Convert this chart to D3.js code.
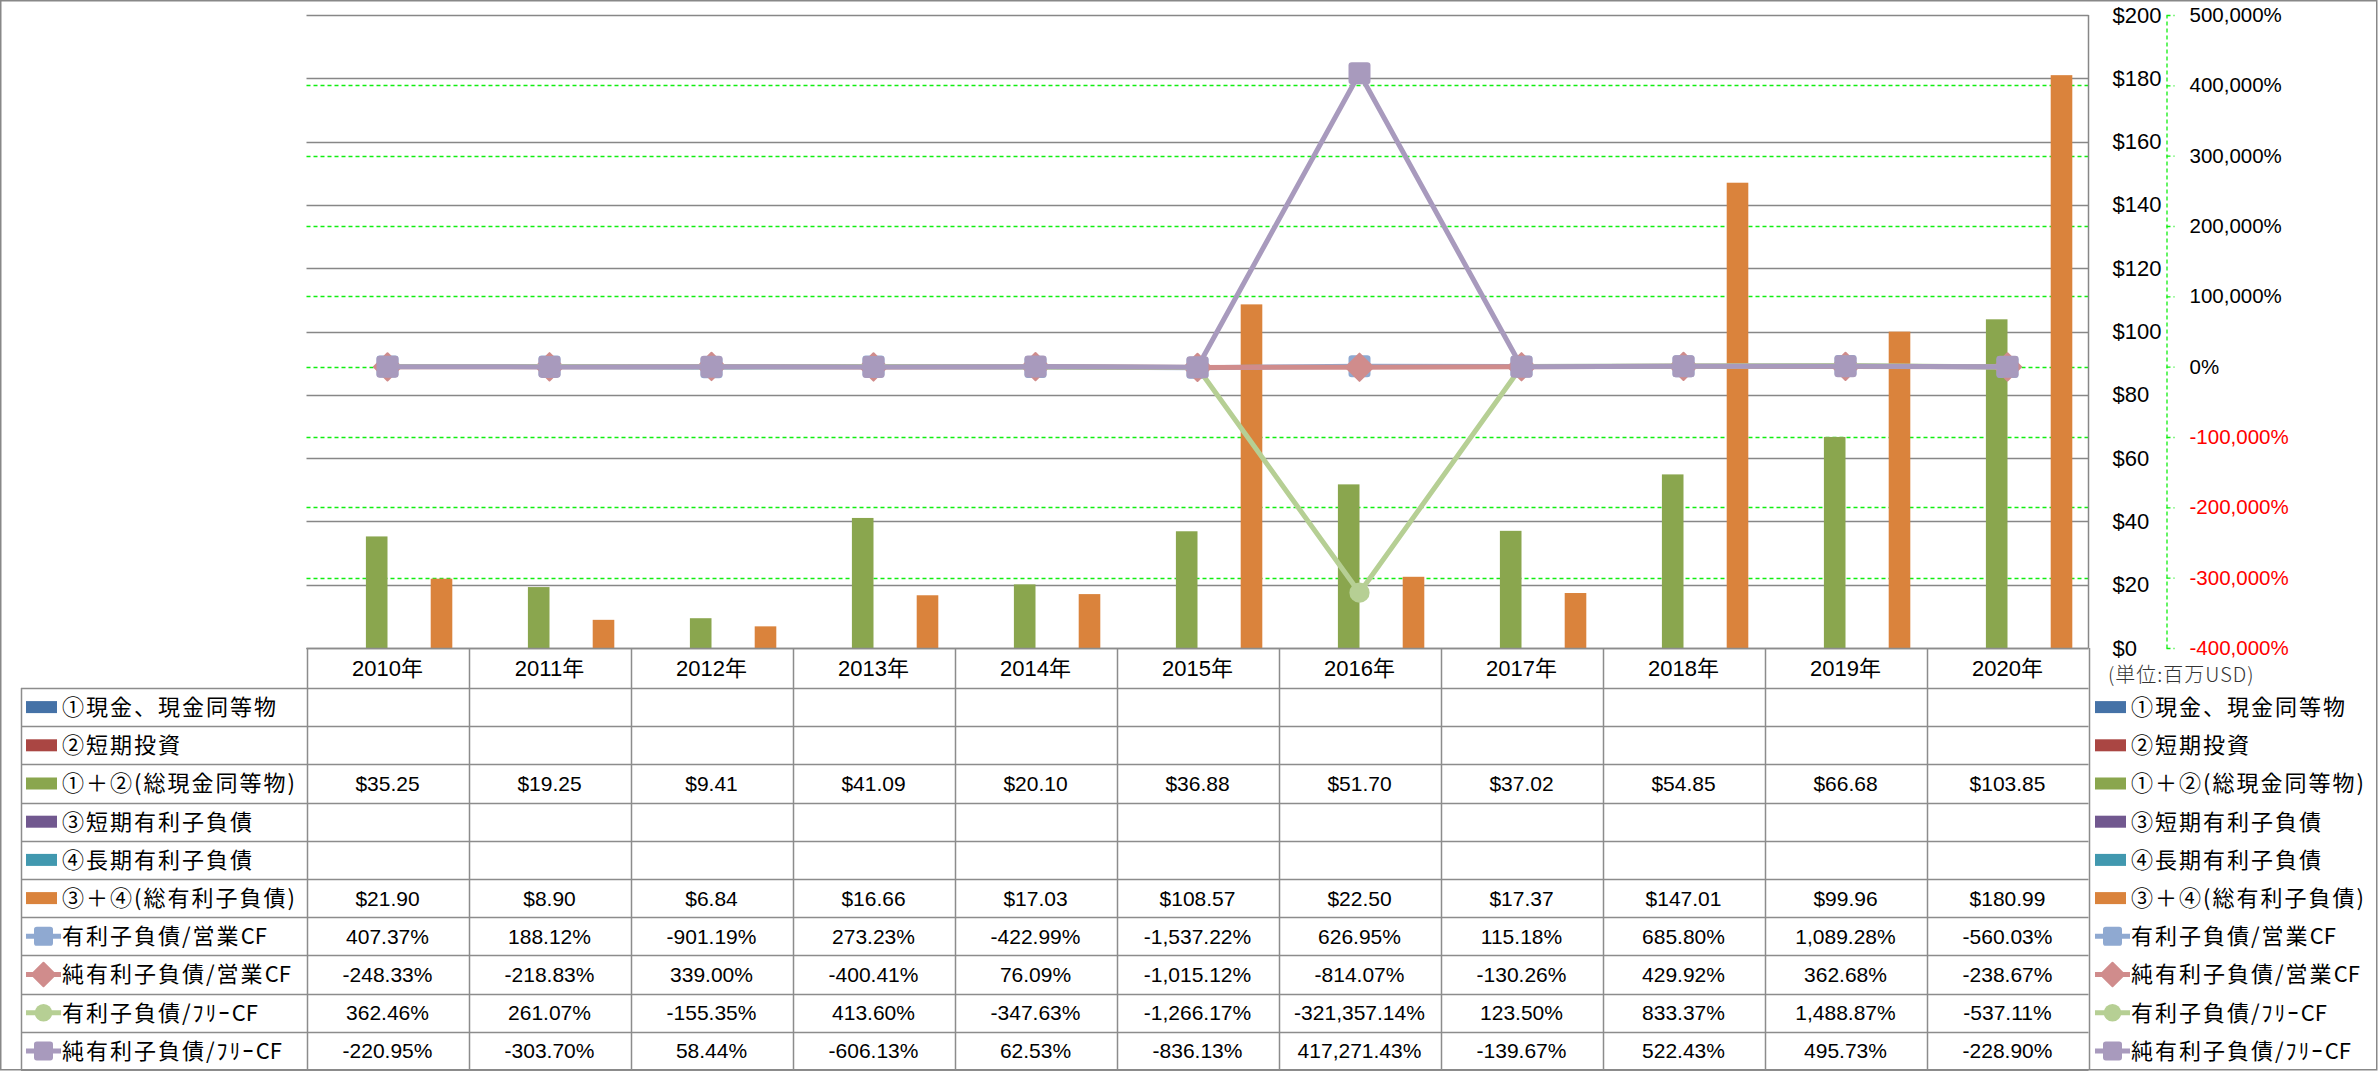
<!DOCTYPE html>
<html><head><meta charset="utf-8">
<script src="https://cdn.jsdelivr.net/npm/d3@7"></script>
<style>
html,body{margin:0;padding:0;background:#fff;}
svg{display:block;}
text{font-family:"Liberation Sans","Noto Sans CJK JP",sans-serif;}
.jp{font-family:"Noto Sans CJK JP","Liberation Sans",sans-serif;}
</style></head>
<body>
<script>
// ---------- data ----------
const years = ["2010年","2011年","2012年","2013年","2014年","2015年","2016年","2017年","2018年","2019年","2020年"];
const barNames = ["①現金、現金同等物","②短期投資","①＋②(総現金同等物)","③短期有利子負債","④長期有利子負債","③＋④(総有利子負債)"];
const barColors = ["#4572A7","#AA4643","#8AA64E","#71588F","#4198AF","#DA833C"];
const cashEq = [null,null,null,null,null,null,null,null,null,null,null];
const shortInv = [null,null,null,null,null,null,null,null,null,null,null];
const totalCash = [35.25,19.25,9.41,41.09,20.10,36.88,51.70,37.02,54.85,66.68,103.85];
const shortDebt = [null,null,null,null,null,null,null,null,null,null,null];
const longDebt = [null,null,null,null,null,null,null,null,null,null,null];
const totalDebt = [21.90,8.90,6.84,16.66,17.03,108.57,22.50,17.37,147.01,99.96,180.99];

const lineNames = ["有利子負債/営業CF","純有利子負債/営業CF","有利子負債/ﾌﾘｰCF","純有利子負債/ﾌﾘｰCF"];
const lineColors = ["#8FA9D1","#D08C8C","#B6CF94","#A89ABD"];
const lineMarkers = ["square","diamond","circle","square"];
const debtOpCF = [407.37,188.12,-901.19,273.23,-422.99,-1537.22,626.95,115.18,685.80,1089.28,-560.03];
const netDebtOpCF = [-248.33,-218.83,339.00,-400.41,76.09,-1015.12,-814.07,-130.26,429.92,362.68,-238.67];
const debtFCF = [362.46,261.07,-155.35,413.60,-347.63,-1266.17,-321357.14,123.50,833.37,1488.87,-537.11];
const netDebtFCF = [-220.95,-303.70,58.44,-606.13,62.53,-836.13,417271.43,-139.67,522.43,495.73,-228.90];

const leftTicks = [0,20,40,60,80,100,120,140,160,180,200];
const rightTicks = [-400000,-300000,-200000,-100000,0,100000,200000,300000,400000,500000];
const unitLabel = "(単位:百万USD)";

const barData = [cashEq, shortInv, totalCash, shortDebt, longDebt, totalDebt];
const lineData = [debtOpCF, netDebtOpCF, debtFCF, netDebtFCF];

// ---------- layout ----------
const W = 2378, H = 1071;
const plotL = 306.5, plotR = 2088.5, plotT = 15, plotB = 648;
const headerB = 688, rowH = 38.2;
const labelL = 21;

const loc = d3.formatLocale({decimal:".", thousands:",", grouping:[3], currency:["$",""], minus:"-"});
const fmtComma = loc.format(",");
const fmt2 = loc.format(",.2f");

const svg = d3.select("body").append("svg").attr("width", W).attr("height", H);
svg.append("rect").attr("x",0.75).attr("y",0.75).attr("width",W-2).attr("height",H-2)
  .attr("fill","#fff").attr("stroke","#888").attr("stroke-width",1.5);

const x0 = d3.scaleBand().domain(years).range([plotL, plotR]).paddingInner(0).paddingOuter(0);
const x1 = d3.scaleBand().domain(d3.range(barNames.length)).range([0, x0.bandwidth()]).paddingInner(0).paddingOuter(0.75);
const yL = d3.scaleLinear().domain([0,200]).range([plotB, plotT]);
const yR = d3.scaleLinear().domain([-400000,500000]).range([plotB, plotT]);

const grid = svg.append("g");
grid.selectAll("line.g").data(leftTicks).join("line")
  .attr("x1", plotL).attr("x2", plotR)
  .attr("y1", d => Math.round(yL(d))+0.5).attr("y2", d => Math.round(yL(d))+0.5)
  .attr("stroke","#878787").attr("stroke-width",1.5);
grid.selectAll("line.r").data(rightTicks.filter(d => d > -400000 && d < 500000)).join("line")
  .attr("x1", plotL).attr("x2", plotR)
  .attr("y1", d => Math.round(yR(d))+0.5).attr("y2", d => Math.round(yR(d))+0.5)
  .attr("stroke","#11ee11").attr("stroke-width",1.3).attr("stroke-dasharray","4,3");
grid.append("line").attr("x1",plotR).attr("x2",plotR).attr("y1",plotT).attr("y2",plotB)
  .attr("stroke","#878787").attr("stroke-width",1.5);

// bars
const barG = svg.append("g");
barData.forEach((series, si) => {
  barG.selectAll(null).data(series.map((v,i)=>({v, year: years[i]})).filter(d => d.v != null)).join("rect")
    .attr("x", d => x0(d.year) + x1(si))
    .attr("width", x1.bandwidth())
    .attr("y", d => yL(d.v))
    .attr("height", d => yL(0) - yL(d.v))
    .attr("fill", barColors[si]);
});

function drawMarker(g, type, cx, cy, color, s) {
  if (type === "square") {
    g.append("rect").attr("x", cx - s/2).attr("y", cy - s/2).attr("width", s).attr("height", s)
      .attr("rx", s*0.15).attr("fill", color);
  } else if (type === "diamond") {
    const r = s*0.62;
    g.append("path").attr("d", `M${cx},${cy-r}L${cx+r},${cy}L${cx},${cy+r}L${cx-r},${cy}Z`)
      .attr("fill", color).attr("stroke", color).attr("stroke-width", 2).attr("stroke-linejoin","round");
  } else {
    g.append("circle").attr("cx", cx).attr("cy", cy).attr("r", s*0.46).attr("fill", color);
  }
}

// lines
const lineG = svg.append("g");
const lineGen = d3.line().x((d,i) => x0(years[i]) + x0.bandwidth()/2).y(d => yR(d));
lineData.forEach((series, si) => {
  const g = lineG.append("g");
  g.append("path").attr("d", lineGen(series)).attr("fill","none")
    .attr("stroke", lineColors[si]).attr("stroke-width", 5).attr("stroke-linejoin","round").attr("stroke-linecap","round");
  series.forEach((v,i) => drawMarker(g, lineMarkers[si], x0(years[i]) + x0.bandwidth()/2, yR(v), lineColors[si], 22));
});

// $ axis (drawn at right of plot)
const axL = svg.append("g").attr("transform", `translate(${plotR},0)`)
  .call(d3.axisRight(yL).tickValues(leftTicks).tickSize(0).tickPadding(24).tickFormat(d => "$" + d));
axL.select(".domain").remove();
axL.selectAll("text").attr("font-size", 22).attr("fill","#000").attr("font-family", "Liberation Sans, sans-serif");

// % axis
const axisX = 2166.5;
const axR = svg.append("g").attr("transform", `translate(${axisX},0)`)
  .call(d3.axisRight(yR).tickValues(rightTicks).tickSize(8).tickSizeOuter(0).tickPadding(15)
    .tickFormat(d => fmtComma(d) + "%"));
axR.select(".domain").attr("stroke","#11ee11").attr("stroke-width",1.3).attr("stroke-dasharray","4,3");
axR.selectAll(".tick line").attr("stroke","#11ee11").attr("stroke-width",1.3).attr("stroke-dasharray","4,3");
axR.selectAll("text").attr("font-size", 20.5).attr("font-family", "Liberation Sans, sans-serif")
  .attr("fill", d => d < 0 ? "#ff0000" : "#000");

svg.append("text").attr("class","jp").attr("x", 2108).attr("y", 675).attr("dy","0.35em")
  .attr("font-size", 20).attr("letter-spacing", 1).attr("fill","#333").attr("font-weight",300).text(unitLabel);

// ---------- data table ----------
const tbl = svg.append("g");
const gridColor = "#8c8c8c";
const nRows = barNames.length + lineNames.length;
const rowY = i => headerB + i*rowH;
tbl.append("line").attr("x1", plotL).attr("x2", plotR).attr("y1", plotB+0.5).attr("y2", plotB+0.5)
  .attr("stroke", gridColor).attr("stroke-width",1.5);
d3.range(nRows+1).forEach(i => {
  const y = Math.round(rowY(i)) + 0.5;
  tbl.append("line").attr("x1", labelL).attr("x2", plotR).attr("y1", y).attr("y2", y)
    .attr("stroke", gridColor).attr("stroke-width",1.5);
});
d3.range(years.length + 1).forEach(i => {
  const x = Math.round(plotL + i*x0.bandwidth()) + 0.5;
  tbl.append("line").attr("x1", x).attr("x2", x).attr("y1", plotB).attr("y2", rowY(nRows))
    .attr("stroke", gridColor).attr("stroke-width",1.5);
});
tbl.append("line").attr("x1", labelL+0.5).attr("x2", labelL+0.5).attr("y1", headerB).attr("y2", rowY(nRows))
  .attr("stroke", gridColor).attr("stroke-width",1.5);

tbl.selectAll("text.h").data(years).join("text")
  .attr("x", d => x0(d) + x0.bandwidth()/2).attr("y", (plotB+headerB)/2).attr("dy","0.36em")
  .attr("text-anchor","middle").attr("font-size", 22).attr("fill","#000").text(d => d);

const fmtMoney = v => v == null ? "" : "$" + fmt2(v);
const fmtPct = v => v == null ? "" : fmt2(v) + "%";

const rows = barNames.map((n,i) => ({name:n, type:"bar", color:barColors[i], vals: barData[i], fmt: fmtMoney}))
  .concat(lineNames.map((n,i) => ({name:n, type:"line", color:lineColors[i], marker:lineMarkers[i], vals: lineData[i], fmt: fmtPct})));

function legendKey(g, r, x, cy) {
  if (r.type === "bar") {
    g.append("rect").attr("x", x).attr("y", cy - 6).attr("width", 31).attr("height", 12).attr("fill", r.color);
  } else {
    g.append("line").attr("x1", x).attr("x2", x+35).attr("y1", cy).attr("y2", cy)
      .attr("stroke", r.color).attr("stroke-width", 5);
    drawMarker(g, r.marker, x+17.5, cy, r.color, 19);
  }
}

function labelText(g, x, cy, name) {
  const t = g.append("text").attr("class","jp").attr("x", x).attr("y", cy).attr("dy","0.36em")
    .attr("font-size", 22).attr("fill","#000");
  const parts = name.match(/[A-Za-z]+|[^A-Za-z]+/g);
  parts.forEach(p => {
    t.append("tspan").attr("letter-spacing", /[A-Za-z]/.test(p) ? 0 : 2).text(p);
  });
}

rows.forEach((r, ri) => {
  const cy = rowY(ri) + rowH/2;
  legendKey(tbl, r, 26, cy);
  labelText(tbl, 62, cy, r.name);
  r.vals.forEach((v, i) => {
    tbl.append("text").attr("x", x0(years[i]) + x0.bandwidth()/2).attr("y", cy).attr("dy","0.36em")
      .attr("text-anchor","middle").attr("font-size", 21).attr("fill","#000").text(r.fmt(v));
  });
  legendKey(tbl, r, 2095, cy);
  labelText(tbl, 2131, cy, r.name);
});
</script>
</body></html>
